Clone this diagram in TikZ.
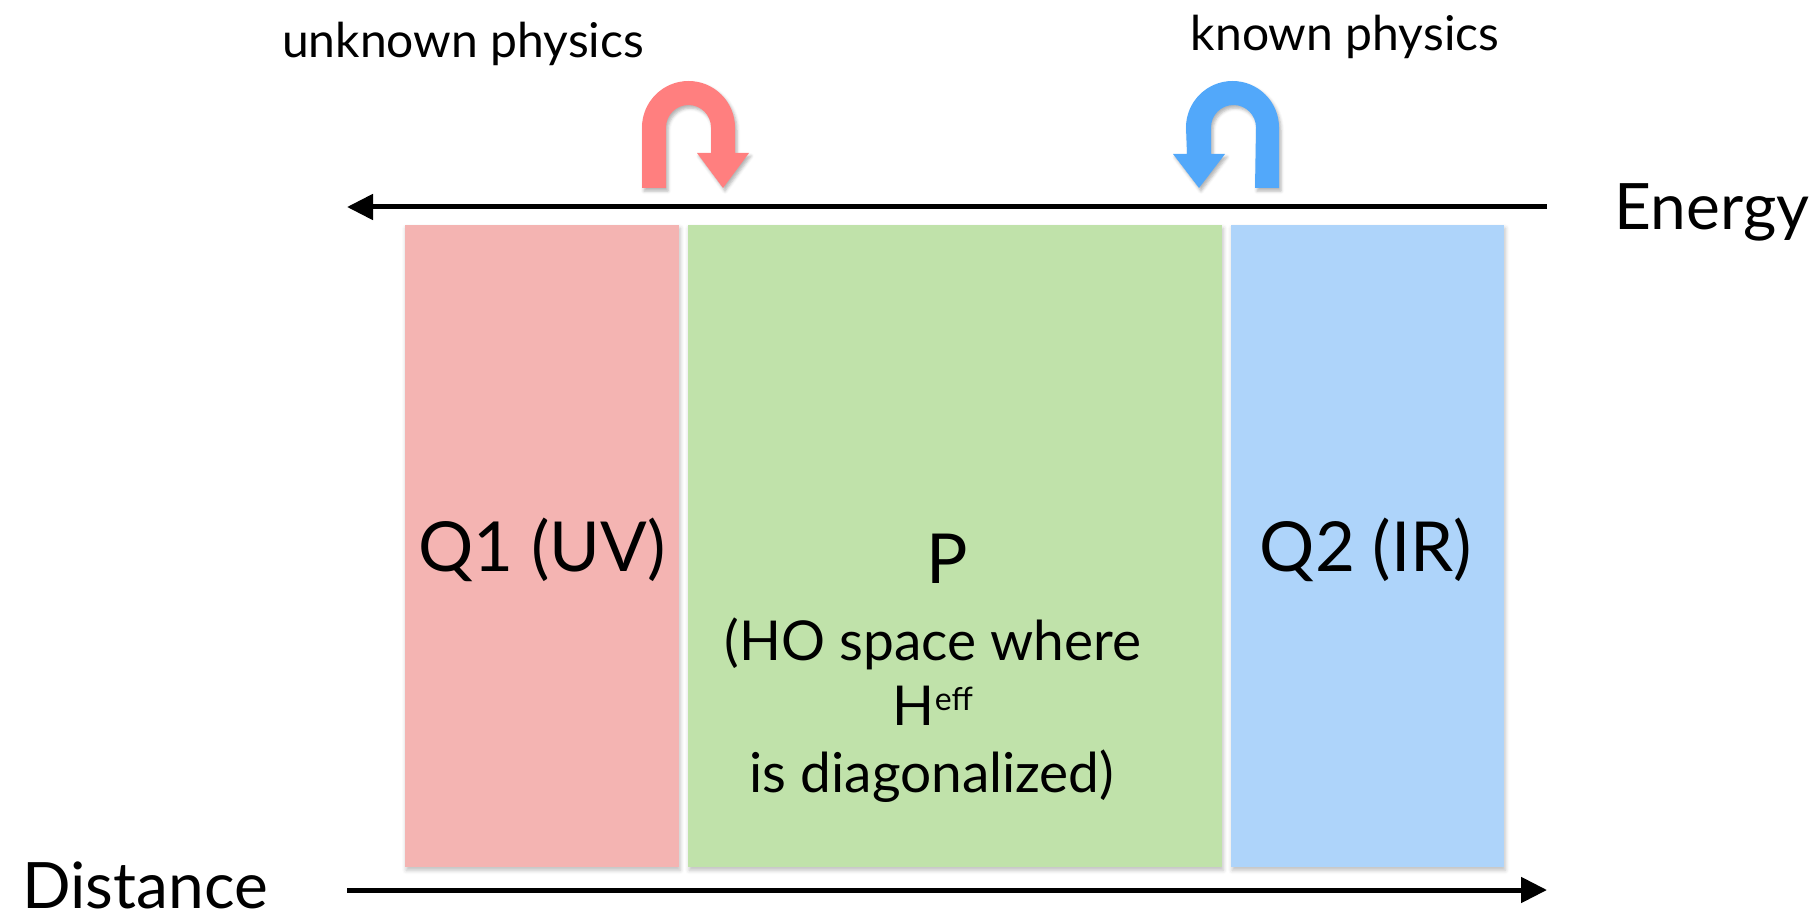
\documentclass[tikz,border=0pt]{standalone}
\usepackage{fontspec}
\setmainfont{Lato}
\usetikzlibrary{arrows.meta,shadows.blur}
\definecolor{boxpink}{HTML}{F4B4B2}
\definecolor{boxgreen}{HTML}{C0E2AA}
\definecolor{boxblue}{HTML}{AED4FA}
\definecolor{turnred}{HTML}{FF7F7F}
\definecolor{turnblue}{HTML}{52A8FA}
\tikzset{
  region/.style={draw=none, inner sep=0pt, anchor=north west,
    blur shadow={shadow xshift=1pt, shadow yshift=-3pt, shadow blur radius=4pt, shadow opacity=25}},
  axis/.style={line width=5pt, -{Triangle[length=26pt,width=25pt]}},
  turn/.style={draw=none, blur shadow={shadow xshift=2pt, shadow yshift=-3pt, shadow blur radius=3pt, shadow opacity=30}},
  lbl/.style={inner sep=0pt, font=\fontsize{48}{56}\selectfont},
  big/.style={inner sep=0pt, font=\fontsize{64}{76}\selectfont},
  reg/.style={inner sep=0pt, font=\fontsize{69}{80}\selectfont},
  mid/.style={inner sep=0pt, font=\fontsize{55}{64}\selectfont},
}
\begin{document}
\begin{tikzpicture}[x=1pt,y=1pt]
\useasboundingbox (0,0) rectangle (1815,-917);
% regions
\node[region, fill=boxpink, minimum width=274pt, minimum height=642pt] (q1) at (405,-225) {};
\node[region, fill=boxgreen, minimum width=534pt, minimum height=642pt] (p) at (688,-225) {};
\node[region, fill=boxblue, minimum width=273pt, minimum height=642pt] (q2) at (1231,-225) {};
% axes
\coordinate (eR) at (1547,-207);
\coordinate (eL) at (347,-207);
\coordinate (dL) at (347,-890);
\coordinate (dR) at (1547,-890);
\draw[axis] (eR) -- (eL);
\draw[axis] (dL) -- (dR);
% u-turn arrows
\fill[turnred, turn] (642,-188) -- (642,-127.5) arc (180:0:46.5) -- (735,-153) -- (749,-153) -- (723,-188) -- (697,-153) -- (711,-153) -- (711,-127.5) arc (0:180:22.5) -- (666,-188) -- cycle;
\fill[turnblue, turn] (1279,-188) -- (1279,-127.5) arc (0:180:46.5) -- (1187,-154) -- (1173,-154) -- (1199,-188) -- (1225,-154) -- (1211,-154) -- (1211,-127.5) arc (180:0:22.5) -- (1255,-188) -- cycle;
% labels
\node[lbl] (unk) at (463,-44) {unknown physics};
\node[lbl] (kn) at (1345,-37) {known physics};
\node[big] (en) at (1712,-212) {Energy};
\node[big] (di) at (145,-885) {Distance};
\node[reg] (q1t) at (542,-550) {Q1 (UV)};
\node[reg] (q2t) at (1366,-550) {Q2 (IR)};
\node[reg] (pt) at (947,-559) {P};
\node[mid] (l1) at (933,-644) {(HO space where};
\node[mid] (l2) at (933,-706) {H\raisebox{0.28em}{\fontsize{32}{38}\selectfont eff}};
\node[mid] (l3) at (932,-776) {is diagonalized)};
\end{tikzpicture}
\end{document}
